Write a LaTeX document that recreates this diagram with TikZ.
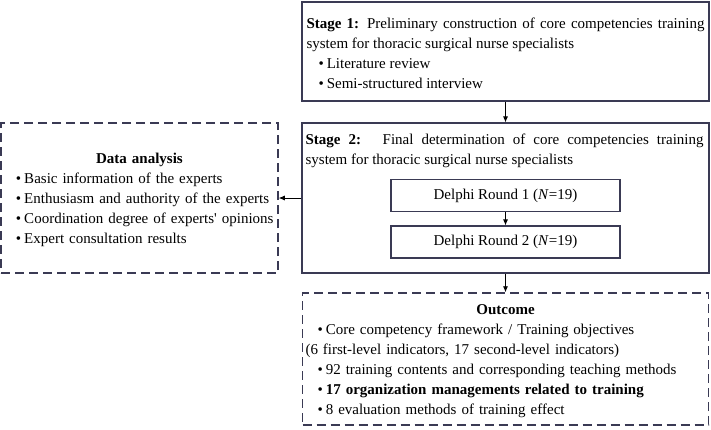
\documentclass[tikz,border=0pt]{standalone}
\usepackage{fontspec}
\setmainfont{Liberation Serif}
\usetikzlibrary{arrows.meta, positioning}
\definecolor{frame}{RGB}{58,58,84}
\tikzset{
    stagebox/.style={rectangle, draw=frame, line width=1.2pt, minimum width=407pt, inner xsep=4pt, text width=398pt, align=justify, font=\fontsize{15}{20}\selectfont},
    dashbox/.style={rectangle, draw=frame, line width=1.5pt, dash pattern=on 9pt off 5pt, inner xsep=3pt, align=left, font=\fontsize{15}{20}\selectfont},
    roundbox/.style={rectangle, draw=frame, line width=1.2pt, minimum width=229pt, minimum height=32pt, font=\fontsize{15}{18}\selectfont},
    arrow/.style={-{Latex[length=6pt, width=5pt]}, line width=0.8pt}
}
\newcommand{\bitem}{\hspace*{12pt}\textbullet\hspace{3pt}}
\newcommand{\topstrut}{\rule{0pt}{15pt}}

\begin{document}
\begin{tikzpicture}[x=1pt, y=-1pt]
    \useasboundingbox (0,0) rectangle (711,429);

    % Stage 1 box
    \node (stage1) [stagebox, minimum height=99pt] at (505.5,51.5) {\topstrut\textbf{Stage 1:} Preliminary construction of core competencies training\linebreak system for thoracic surgical nurse specialists\\
        \bitem Literature review\\
        \bitem Semi-structured interview};

    % Stage 2 frame, heading and the two Delphi rounds
    \node (stage2) [stagebox, minimum height=150pt] at (505.5,198) {};
    \node (stage2head) [anchor=north west, inner sep=4pt, yshift=-7pt, text width=398pt, align=justify, font=\fontsize{15}{20.5}\selectfont] at (stage2.north west) {\textbf{Stage 2:} ~Final determination of core competencies training\linebreak system for thoracic surgical nurse specialists};
    \node (round1) [roundbox] at (505.5,195.5) {Delphi Round 1 (\textit{N}=19)};
    \node (round2) [roundbox] at (505.5,242) {Delphi Round 2 (\textit{N}=19)};

    % Dashed side box and outcome box
    \node (analysis) [dashbox, minimum width=277pt, minimum height=150pt, text width=271pt] at (139.5,198) {\centerline{\topstrut\textbf{Data analysis}}
        \bitem Basic information of the experts\\
        \bitem Enthusiasm and authority of the experts\\
        \mbox{\bitem Coordination degree of experts\textquotesingle{} opinions}\\
        \bitem Expert consultation results};
    \node (outcome) [dashbox, minimum width=406pt, minimum height=132pt, text width=400pt] at (505.5,359) {\centerline{\topstrut\textbf{Outcome}}
        \bitem Core competency framework / Training objectives\\
        (6 first-level indicators, 17 second-level indicators)\\
        \bitem 92 training contents and corresponding teaching methods\\
        \bitem \textbf{17 organization managements related to training}\\
        \bitem 8 evaluation methods of training effect};

    % Connections
    \draw [arrow] (stage1) -- (stage2);
    \draw [arrow] (round1) -- (round2);
    \draw [arrow] (stage2) -- (outcome);
    \draw [arrow] (stage2) -- (analysis);
\end{tikzpicture}
\end{document}
